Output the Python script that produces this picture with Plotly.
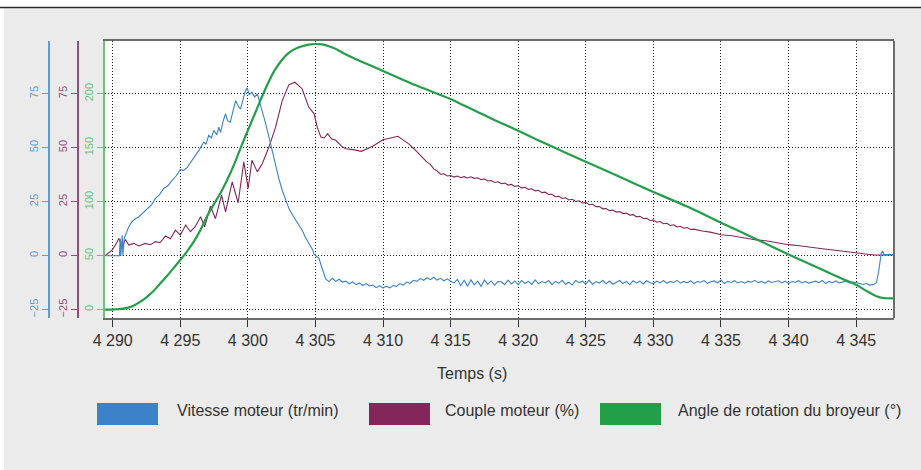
import plotly.graph_objects as go

# ---------------------------------------------------------------------------
# Data
# ---------------------------------------------------------------------------
x_ticks = [4290, 4295, 4300, 4305, 4310, 4315, 4320, 4325, 4330, 4335, 4340, 4345]
x_tick_labels = ["4 290", "4 295", "4 300", "4 305", "4 310", "4 315",
                 "4 320", "4 325", "4 330", "4 335", "4 340", "4 345"]
speed_ticks = [-25, 0, 25, 50, 75]
torque_ticks = [-25, 0, 25, 50, 75]
angle_ticks = [0, 50, 100, 150, 200]

# Angle de rotation du broyeur (°)
angle_t = [4289.43, 4290.5, 4291.0, 4291.5, 4292.0, 4292.5, 4293.0, 4293.5, 4294.0,
           4294.5, 4295.0, 4295.5, 4296.0, 4296.5, 4297.0, 4297.5, 4298.0, 4298.5,
           4299.0, 4299.5, 4300.0, 4300.5, 4301.0, 4301.5, 4302.0, 4302.5, 4303.0,
           4303.5, 4304.0, 4304.5, 4305.0, 4305.5, 4306.0, 4306.5, 4307.0, 4308.0,
           4309.0, 4310.0, 4311.0, 4312.0, 4313.0, 4314.0, 4315.0, 4316.0, 4317.0,
           4318.0, 4319.0, 4320.0, 4322.5, 4325.0, 4327.5, 4330.0, 4332.5, 4335.0,
           4337.5, 4340.0, 4342.5, 4344.0, 4345.0, 4345.8, 4346.5, 4347.0, 4347.8]
angle_v = [0.0, 0.5, 1.5, 3.5, 7.0, 11.5, 17.0, 24.0, 31.0,
           38.5, 46.0, 54.0, 63.0, 74.0, 87.0, 98.0, 108.5, 121.0,
           135.0, 151.0, 166.0, 181.0, 196.0, 210.0, 222.0, 231.0, 237.5,
           241.5, 244.0, 245.5, 246.0, 245.6, 244.0, 241.5, 238.0, 232.0,
           226.5, 221.0, 215.5, 210.0, 205.0, 200.0, 195.0, 189.0, 183.0,
           177.0, 171.5, 165.7, 151.0, 137.0, 123.0, 109.0, 95.5, 80.5,
           66.0, 51.0, 37.0, 28.5, 23.0, 17.0, 12.5, 10.8, 10.5]

# Couple moteur (%) - start-up and peak
torque_t_a = [4289.43, 4289.95, 4290.3, 4290.45, 4290.7, 4290.94, 4291.19, 4291.56,
              4291.93, 4292.4, 4292.8, 4293.16, 4293.5, 4293.9, 4294.27, 4294.64,
              4295.0, 4295.4, 4295.75, 4296.1, 4296.5, 4296.8, 4297.23, 4297.6,
              4298.05, 4298.35, 4298.84, 4299.28, 4299.7, 4300.02, 4300.3, 4300.7,
              4301.06, 4301.56, 4302.05, 4302.54, 4303.04, 4303.48, 4304.02, 4304.5,
              4304.9, 4305.13, 4305.4, 4305.65, 4305.9, 4306.2, 4306.5, 4306.95,
              4307.23, 4307.8, 4308.4, 4309.2, 4310.0, 4310.5, 4311.1, 4311.5,
              4311.9, 4312.3, 4312.6]
torque_v_a = [0.0, 2.6, 6.0, 8.0, 4.2, 7.5, 4.9, 5.7,
              4.5, 5.7, 5.1, 6.5, 6.0, 9.1, 7.8, 11.8,
              9.5, 14.2, 11.1, 13.4, 18.0, 13.4, 22.9, 17.2,
              28.0, 20.3, 34.2, 24.5, 43.4, 31.1, 44.2, 38.8,
              42.6, 50.3, 59.5, 71.8, 79.2, 80.3, 77.2, 68.8,
              65.7, 59.5, 54.9, 54.5, 56.5, 54.0, 53.4, 50.6,
              49.5, 49.1, 48.3, 50.6, 53.7, 54.5, 55.3, 53.5,
              51.8, 49.4, 47.6]
# Couple moteur (%) - slow decay, sampled every 0.25 s from 4313 s
torque_b_start = 4313.0
torque_b_step = 0.25
torque_v_b = [45.2, 43.3, 42.3, 40.2, 39.2, 37.7, 37.9, 36.9, 37.1, 36.4,
              36.9, 36.1, 36.6, 36.0, 36.5, 35.8, 36.1, 35.2, 35.5, 34.6,
              34.8, 33.9, 34.2, 33.3, 33.6, 32.7, 33.0, 32.1, 32.4, 31.4,
              31.7, 30.7, 31.0, 30.0, 30.3, 29.2, 29.4, 28.3, 28.4, 27.3,
              27.5, 26.5, 26.8, 25.8, 26.1, 25.1, 25.4, 24.4, 24.7, 23.6,
              23.8, 22.7, 22.8, 21.7, 21.8, 20.8, 21.1, 20.2, 20.4, 19.5,
              19.7, 18.8, 19.0, 18.0, 18.2, 17.2, 17.3, 16.3, 16.5, 15.5,
              15.8, 14.8, 15.0, 14.0, 14.3, 13.3, 13.6, 12.7, 13.0, 12.1,
              12.3]
torque_t_c = [4333.6, 4334.2, 4335.0, 4335.8, 4336.6, 4337.5, 4338.3, 4339.2,
              4340.0, 4340.8, 4341.7, 4342.5, 4343.3, 4344.2, 4345.0, 4345.7,
              4346.4, 4347.8]
torque_v_c = [11.4, 10.9, 9.7, 9.2, 8.3, 7.4, 6.9, 5.8,
              5.1, 4.6, 3.7, 3.2, 2.6, 1.8, 1.25, 0.8,
              0.3, 0.3]

# Vitesse moteur (tr/min) - start-up ramp and braking
speed_t_a = [4289.43, 4290.5, 4290.55, 4290.6, 4290.7, 4290.75, 4290.85, 4290.94,
             4291.05, 4291.19, 4291.4, 4291.68, 4291.9, 4292.17, 4292.4, 4292.67,
             4292.9, 4293.16, 4293.45, 4293.78, 4294.1, 4294.4, 4294.7, 4295.0,
             4295.25, 4295.5, 4295.8, 4296.1, 4296.4, 4296.74, 4296.9, 4297.1,
             4297.3, 4297.48, 4297.7, 4297.85, 4297.98, 4298.15, 4298.35, 4298.5,
             4298.7, 4298.9, 4299.1, 4299.3, 4299.46, 4299.65, 4299.8, 4299.95,
             4300.1, 4300.3, 4300.5, 4300.7, 4300.85, 4301.06, 4301.3, 4301.56,
             4301.8, 4302.05, 4302.3, 4302.54, 4302.8, 4303.04, 4303.3, 4303.53,
             4303.8, 4304.02, 4304.25, 4304.5, 4304.7, 4304.8, 4304.9, 4305.0,
             4305.1, 4305.26, 4305.45, 4305.63]
speed_v_a = [0.0, 0.0, 8.0, 0.0, 9.5, 0.0, 8.0, 9.5,
             11.0, 13.4, 15.5, 17.2, 17.8, 19.5, 20.5, 22.6,
             23.8, 26.5, 28.2, 31.1, 32.5, 34.9, 37.0, 39.8,
             39.5, 40.8, 43.5, 46.5, 49.0, 52.6, 51.5, 55.7,
             54.5, 58.0, 56.0, 59.5, 57.0, 62.0, 65.7, 62.5,
             61.8, 67.0, 71.8, 69.0, 68.0, 72.5, 76.0, 77.7,
             74.5, 75.7, 73.5, 74.9, 71.5, 68.0, 61.5, 54.9,
             48.5, 41.8, 35.5, 30.3, 25.5, 21.8, 18.8, 16.5,
             14.0, 11.8, 8.5, 5.7, 3.5, 2.6, 0.5, 0.3,
             -0.5, -1.2, -5.0, -8.9]
# Vitesse moteur (tr/min) - steady low speed, sampled every 0.25 s from 4305.75 s
speed_b_start = 4305.75
speed_b_step = 0.25
speed_v_b = [-10.8, -12.0, -10.5, -11.9, -10.9, -12.2,
             -11.8, -13.0, -12.1, -13.4, -12.6, -13.8, -12.9, -14.0,
             -13.6, -14.8, -13.9, -15.0, -14.1, -14.9, -13.8,
             -14.2, -12.9, -13.6, -12.2, -12.8, -11.4, -11.9,
             -10.6, -11.4, -10.2, -11.1, -10.0, -11.3, -10.5, -11.6, -10.7, -11.8,
             -12.6, -11.0, -13.9, -11.4, -14.1, -11.2, -13.5, -11.8, -14.2, -11.3,
             -13.2, -11.7, -13.6, -12.0,
             -12.1, -13.4, -11.3, -13.1, -11.7, -13.5, -11.5, -12.9, -11.9, -13.3,
             -11.2, -13.0, -12.0, -12.6, -11.5, -13.4, -11.9, -12.8, -11.4, -13.2,
             -12.3, -13.6, -11.5, -12.5, -11.8, -13.1, -11.3, -13.3, -12.0, -12.7,
             -11.4, -13.0, -11.7, -13.2, -12.4, -11.5, -12.9, -11.9, -13.4, -11.6,
             -12.6, -11.8, -13.1, -11.6, -12.5, -12.9,
             -11.8, -12.6, -11.5, -12.8, -11.9, -12.4, -11.4, -12.7, -11.9, -12.6,
             -11.6, -12.9, -12.0, -12.3, -11.5, -12.8, -12.1, -11.7, -12.6, -11.3,
             -12.9, -11.9, -12.4, -11.6, -12.6, -12.0, -12.7, -11.8, -12.3, -11.4,
             -12.5, -11.9, -12.8, -11.7, -12.4, -12.1, -11.6, -12.6, -11.8, -12.9,
             -12.0, -12.3, -11.6, -12.6, -11.9, -12.7, -12.1, -11.8, -12.5, -11.5,
             -12.9, -11.9, -12.5, -11.7, -12.6, -12.1, -11.8, -12.6, -12.2, -12.4,
             -12.8, -13.3, -12.9, -13.6, -13.4]
speed_t_c = [4346.5, 4346.67, 4346.85, 4346.95, 4347.1, 4347.4, 4347.8]
speed_v_c = [-12.5, -7.2, 1.0, 2.2, 0.3, 0.6, 0.5]

legend_labels = ["Vitesse moteur (tr/min)", "Couple moteur (%)",
                 "Angle de rotation du broyeur (°)"]

# ---------------------------------------------------------------------------
# Assemble series
# ---------------------------------------------------------------------------
torque_t = (torque_t_a
            + [torque_b_start + i * torque_b_step for i in range(len(torque_v_b))]
            + torque_t_c)
torque_v = torque_v_a + torque_v_b + torque_v_c
speed_t = (speed_t_a
           + [speed_b_start + i * speed_b_step for i in range(len(speed_v_b))]
           + speed_t_c)
speed_v = speed_v_a + speed_v_b + speed_v_c

BLUE = "#3b82c8"
PURPLE = "#83265a"
GREEN = "#239e49"
BLUE_AX = "#5f9bd6"
PURPLE_AX = "#9a4a7c"
GREEN_AX = "#6cc27a"
TEXT = "#333333"
FONT = "Liberation Sans, Arial, sans-serif"

W, H = 921, 470
ML, MR, MT, MB = 49, 27, 41, 152
PW = W - ML - MR
PH = H - MT - MB


def fx(p):
    return (p - ML) / PW


def fy(p):
    return (H - MB - p) / PH


x_range = [4289.43, 4347.8]
angle_range = [-7.7, 248.8]
side_range = [(angle_range[0] - 50) / 2, (angle_range[1] - 50) / 2]

fig = go.Figure()
fig.add_trace(go.Scatter(x=torque_t, y=torque_v, mode="lines", yaxis="y",
                         line=dict(color=PURPLE, width=1.1), name=legend_labels[1]))
fig.add_trace(go.Scatter(x=speed_t, y=speed_v, mode="lines", yaxis="y2",
                         line=dict(color=BLUE, width=1.1), name=legend_labels[0]))
fig.add_trace(go.Scatter(x=angle_t, y=angle_v, mode="lines", yaxis="y3",
                         line=dict(color=GREEN, width=2.2, shape="spline", smoothing=0.6),
                         name=legend_labels[2]))

grid = dict(showgrid=True, gridcolor="#1e1e1e", griddash="1px,2px", gridwidth=1)

fig.update_layout(
    width=W, height=H,
    margin=dict(l=ML, r=MR, t=MT, b=MB),
    paper_bgcolor="#ebebeb",
    plot_bgcolor="#ffffff",
    showlegend=False,
    font=dict(family=FONT, color=TEXT, size=16),
    xaxis=dict(domain=[fx(105), 1], range=x_range, tickvals=x_ticks,
               ticktext=x_tick_labels, ticks="outside", ticklen=7, tickwidth=1,
               tickcolor=TEXT, showline=True, linecolor="#6b6b6b", linewidth=2,
               mirror=True, zeroline=False, tickfont=dict(size=16, color=TEXT),
               **grid),
    # torque axis
    yaxis=dict(anchor="free", position=fx(78), range=side_range, tickvals=torque_ticks,
               tickangle=-90, ticks="outside", ticklen=6, tickcolor=PURPLE_AX,
               showline=True, linecolor=PURPLE_AX, linewidth=1.5, showgrid=False,
               zeroline=False, tickfont=dict(size=11, color=PURPLE_AX)),
    # speed axis
    yaxis2=dict(anchor="free", position=0, overlaying="y", side="left",
                range=side_range, tickvals=speed_ticks, tickangle=-90, ticks="outside",
                ticklen=6, tickcolor=BLUE_AX, showline=True, linecolor=BLUE_AX,
                linewidth=1.5, showgrid=False, zeroline=False,
                tickfont=dict(size=11, color=BLUE_AX)),
    # angle axis
    yaxis3=dict(anchor="x", overlaying="y", side="left", range=angle_range,
                tickvals=angle_ticks, tickangle=-90, ticks="outside", ticklen=6,
                tickcolor=GREEN_AX, showline=True, linecolor=GREEN_AX, linewidth=2,
                zeroline=False, tickfont=dict(size=11, color=GREEN_AX), **grid),
)

shapes = [
    # white top band and rule
    dict(type="rect", xref="paper", yref="paper", x0=fx(0), x1=fx(W), y0=fy(0), y1=fy(7),
         fillcolor="#ffffff", line=dict(width=0), layer="above"),
    dict(type="rect", xref="paper", yref="paper", x0=fx(0), x1=fx(4), y0=fy(0), y1=fy(H),
         fillcolor="#ffffff", line=dict(width=0), layer="above"),
    dict(type="line", xref="paper", yref="paper", x0=fx(0), x1=fx(W), y0=fy(7.5), y1=fy(7.5),
         line=dict(color="#2b2b2b", width=1.5), layer="above"),
    # right frame edge
    dict(type="line", xref="x domain", yref="y domain", x0=1, x1=1, y0=0, y1=1,
         line=dict(color="#6b6b6b", width=2), layer="above"),
]
annotations = [
    dict(text="Temps (s)", xref="paper", yref="paper", x=fx(472), y=fy(373),
         xanchor="center", yanchor="middle", showarrow=False,
         font=dict(size=16, color=TEXT)),
]
legend_boxes = [(97, 175), (369, 443), (600, 676)]
for (bx, tx), col, lab in zip(legend_boxes, [BLUE, PURPLE, GREEN], legend_labels):
    shapes.append(dict(type="rect", xref="paper", yref="paper", x0=fx(bx), x1=fx(bx + 61),
                       y0=fy(425), y1=fy(403), fillcolor=col, line=dict(width=0)))
    annotations.append(dict(text=lab, xref="paper", yref="paper", x=fx(tx), y=fy(411),
                            xanchor="left", yanchor="middle", showarrow=False,
                            font=dict(size=16, color=TEXT)))

fig.update_layout(shapes=shapes, annotations=annotations)
fig.write_html("out.html")
